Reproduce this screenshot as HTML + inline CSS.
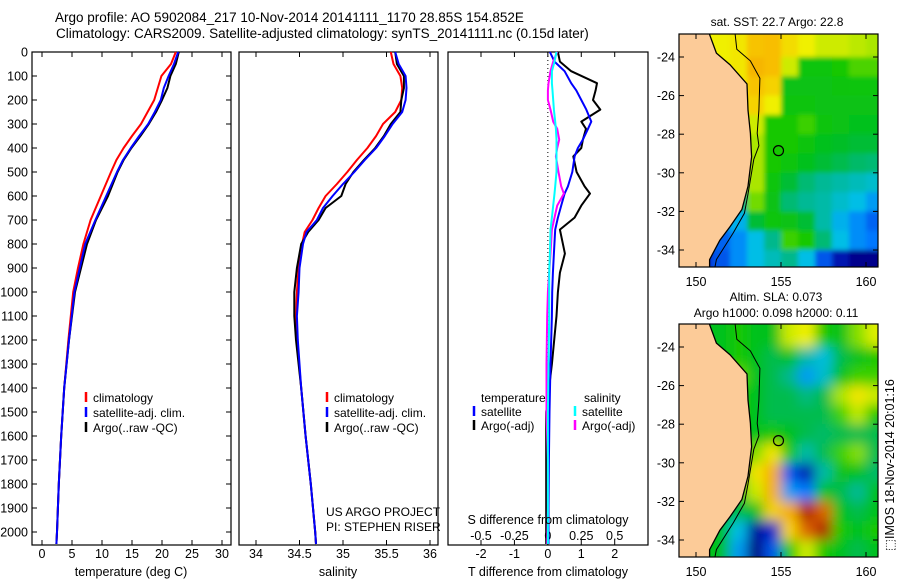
<!DOCTYPE html>
<html><head><meta charset="utf-8">
<style>
html,body{margin:0;padding:0;background:#fff;}
svg{display:block;font-family:"Liberation Sans",sans-serif;}
text{fill:#000;}
</style></head>
<body>
<svg id="fig" width="900" height="580" viewBox="0 0 900 580" xmlns="http://www.w3.org/2000/svg">
<defs>
<clipPath id="clipM1"><rect x="679" y="34" width="199" height="233"/></clipPath>
<clipPath id="clipM2"><rect x="679" y="324" width="199" height="233"/></clipPath>
<filter id="blur1" x="-10%" y="-10%" width="120%" height="120%"><feGaussianBlur stdDeviation="2.5"/></filter>
<filter id="blur2" x="-10%" y="-10%" width="120%" height="120%"><feGaussianBlur stdDeviation="6"/></filter>
</defs>
<text x="55" y="22" font-size="13.5">Argo profile: AO 5902084_217 10-Nov-2014 20141111_1170 28.85S 154.852E</text>
<text x="56" y="38" font-size="13.5">Climatology: CARS2009. Satellite-adjusted climatology: synTS_20141111.nc (0.15d later)</text>
<g id="g1"></g>
<g id="g2"></g>
<g id="g3"></g>
<g id="gm1"></g>
<g id="gm2"></g>
<text transform="translate(894,465) rotate(-90)" text-anchor="middle" font-size="12.5">⬚IMOS 18-Nov-2014 20:01:16</text>
</svg>
<script>
// ---------- profile data ----------
const tempDepth = [0,50,100,150,200,250,300,350,400,450,500,600,700,800,900,1000,1200,1400,1600,1800,2000,2050];
const tempClim = [22.3,21.5,19.9,19.3,18.7,17.6,16.5,15.0,13.6,12.4,11.5,9.8,8.1,6.9,6.0,5.2,4.4,3.7,3.2,2.8,2.5,2.4];
const tempSat = [22.7,22.0,21.1,20.3,19.8,18.8,17.7,16.2,14.8,13.5,12.5,10.7,8.9,7.2,6.3,5.4,4.5,3.7,3.2,2.8,2.5,2.4];
const tempArgo = [22.8,22.3,21.4,20.9,20.0,19.0,17.8,16.4,14.9,13.6,12.6,11.0,9.0,7.5,6.5,5.5,4.5,3.7,3.2,2.8,2.5,2.4];

const salDepth = [0,50,100,150,200,250,300,350,400,450,500,550,600,650,700,750,800,900,1000,1100,1200,1400,1600,1800,2000,2050];
const salClim = [35.55,35.58,35.66,35.68,35.67,35.6,35.46,35.38,35.28,35.16,35.05,34.93,34.8,34.72,34.65,34.56,34.53,34.49,34.47,34.46,34.47,34.52,34.57,34.63,34.68,34.69];
const salSat = [35.6,35.64,35.72,35.73,35.72,35.68,35.57,35.48,35.38,35.25,35.13,35.0,34.88,34.77,34.7,34.58,34.54,34.5,34.49,34.47,34.48,34.52,34.57,34.63,34.68,34.69];
const salArgo = [35.6,35.62,35.7,35.7,35.67,35.66,35.55,35.47,35.37,35.24,35.12,35.03,34.98,34.8,34.72,34.6,34.52,34.47,34.44,34.44,34.46,34.52,34.57,34.63,34.68,34.69];

const diffDepth = [0,40,80,130,160,200,240,290,320,365,400,435,500,560,590,640,690,740,840,920,1000,1100,1300,1500,1700,1900,2050];
const tDiffArgo = [0.3,0.36,0.7,1.47,1.43,1.35,1.57,1.0,1.14,1.05,1.0,0.76,0.86,1.1,1.26,1.0,0.8,0.36,0.51,0.36,0.3,0.26,0.12,-0.05,-0.05,-0.05,-0.05];
const tDiffSat = [0.06,0.2,0.5,0.7,0.85,1.0,1.15,1.3,1.2,1.05,0.9,0.8,0.73,0.6,0.5,0.4,0.3,0.22,0.18,0.15,0.13,0.12,0.08,0.05,0.03,0.02,0.02];
const sDiffSat = [0.065,0.05,0.03,0.03,0.035,0.04,0.045,0.055,0.06,0.065,0.065,0.065,0.065,0.055,0.05,0.04,0.03,0.02,0.015,0.01,0.01,0.01,0.005,0,0,0,0];
const sDiffArgo = [0.07,0.04,0.02,0.005,0,0,0.02,0.04,0.07,0.085,0.07,0.06,0.08,0.1,0.12,0.07,0.05,0.03,0.02,0.01,0,-0.005,-0.01,-0.01,0,0,-0.005];

const depthTicks = [0,100,200,300,400,500,600,700,800,900,1000,1100,1200,1300,1400,1500,1600,1700,1800,1900,2000];
const tempTicks = [0,5,10,15,20,25,30];
const salTicks = [34,34.5,35,35.5,36];
const salTickLabels = ["34","34.5","35","35.5","36"];
const tdTicks = [-2,-1,0,1,2];
const sdTicks = [-0.5,-0.25,0,0.25,0.5];
const sdTickLabels = ["-0.5","-0.25","0","0.25","0.5"];

// ---------- map data ----------
const mapLons = [149.5,150.5,151.5,152.5,153.5,154.5,155.5,156.5,157.5,158.5,159.5,160.5];
const mapLats = [-23.5,-24.5,-25.5,-26.5,-27.5,-28.5,-29.5,-30.5,-31.5,-32.5,-33.5,-34.5];
const sstGrid = [
[.76,.76,.76,.78,.85,.86,.8,.76,.72,.72,.7,.68],
[.76,.76,.76,.78,.87,.86,.72,.58,.58,.6,.63,.63],
[.76,.76,.76,.78,.85,.82,.56,.56,.56,.57,.58,.58],
[.76,.76,.76,.78,.82,.76,.57,.57,.56,.56,.56,.56],
[.76,.76,.76,.72,.72,.6,.6,.62,.57,.56,.55,.55],
[.68,.68,.68,.6,.68,.6,.6,.57,.55,.53,.52,.52],
[.5,.5,.5,.55,.68,.6,.58,.55,.52,.5,.48,.47],
[.45,.45,.45,.5,.68,.58,.52,.47,.44,.42,.4,.38],
[.4,.4,.4,.45,.65,.56,.47,.44,.42,.38,.35,.3],
[.3,.3,.3,.33,.52,.58,.56,.52,.42,.33,.28,.22],
[.22,.22,.22,.28,.35,.45,.62,.6,.47,.35,.28,.25],
[.15,.15,.2,.28,.35,.4,.45,.35,.2,.08,.02,.02]];
const slaGrid = [
[.55,.55,.55,.6,.55,.55,.72,.76,.6,.55,.66,.74],
[.55,.55,.55,.6,.55,.5,.55,.42,.36,.5,.55,.6],
[.55,.55,.55,.64,.55,.5,.45,.3,.38,.55,.62,.62],
[.55,.55,.55,.6,.55,.5,.5,.46,.5,.68,.78,.72],
[.55,.55,.55,.6,.55,.5,.5,.5,.5,.62,.7,.6],
[.55,.55,.55,.55,.55,.6,.55,.5,.48,.5,.5,.5],
[.55,.55,.55,.55,.66,.78,.6,.42,.5,.62,.66,.5],
[.55,.55,.55,.55,.78,.88,.2,.08,.42,.56,.55,.48],
[.55,.55,.55,.55,.72,.88,.3,.25,.55,.5,.44,.55],
[.55,.55,.55,.5,.55,.82,.88,1.0,.95,.55,.5,.55],
[.55,.55,.55,.35,.05,.12,.82,.95,1.0,.6,.55,.6],
[.55,.55,.55,.3,0,.2,.6,.72,.6,.55,.5,.55]];
const coastLon = [150.78,151.2,152.0,153.0,153.06,153.2,153.27,153.06,152.7,152.0,151.4,150.8,150.8];
const coastLat = [-22.8,-23.8,-24.4,-25.4,-26.75,-27.95,-29.17,-30.7,-31.9,-32.8,-33.5,-34.5,-34.95];
const shelfLon = [152.3,152.4,153.2,153.76,153.7,153.6,153.7,153.4,153.06,152.85,152.2,151.2,151.1];
const shelfLat = [-22.8,-23.6,-24.2,-25.1,-26.75,-27.95,-28.6,-29.3,-31.1,-32.1,-33.1,-34.5,-34.95];
const argoLon = 154.852, argoLat = -28.85;
const latTicks = [-24,-26,-28,-30,-32,-34];
const lonTicks = [150,155,160];

const NS = "http://www.w3.org/2000/svg";
function el(parent, tag, attrs, txt){
  const e = document.createElementNS(NS, tag);
  for (const k in attrs) e.setAttribute(k, attrs[k]);
  if (txt !== undefined) e.textContent = txt;
  parent.appendChild(e);
  return e;
}
function lin(d0,d1,r0,r1){ return v => r0 + (v-d0)/(d1-d0)*(r1-r0); }

const TOP = 52, BOT = 545;
const yD = lin(0, 2000, 52, 532);

function frame(g, x0, x1, name){
  const r = el(g,'rect',{x:x0,y:TOP,width:x1-x0,height:BOT-TOP,fill:'none',stroke:'#000','stroke-width':1.2});
  
  
}
function series(g, xs, ys, sx, color, name, w){
  const pts = xs.map((v,i)=> sx(v).toFixed(1)+','+yD(ys[i]).toFixed(1)).join(' ');
  const p = el(g,'polyline',{points:pts,fill:'none',stroke:color,'stroke-width':w||2,'stroke-linejoin':'round'});
  
  
}
function xticks(g, ticks, labels, sx, ly, name){
  ticks.forEach((t,i)=>{
    const x = sx(t);
    el(g,'line',{x1:x,x2:x,y1:TOP,y2:TOP+5,stroke:'#000'});
    el(g,'line',{x1:x,x2:x,y1:BOT,y2:BOT-5,stroke:'#000'});
    const tx = el(g,'text',{x:x,y:ly,'text-anchor':'middle','font-size':12.5}, labels[i]);
    
    
  });
}
function legendEntry(g, x, y, color, label){
  const gg = el(g,'g',{});
  
  
  if (color) el(gg,'line',{x1:x,x2:x,y1:y-10,y2:y,stroke:color,'stroke-width':2.5});
  el(gg,'text',{x:x+7,y:y,'font-size':12}, label);
}

// ---------- Panel 1: temperature ----------
const g1 = document.getElementById('g1');
const sxT = lin(0, 30, 42, 222);
frame(g1, 32, 231, 'temperature-axes-frame');
depthTicks.forEach(d=>{
  const y = yD(d);
  el(g1,'line',{x1:32,x2:37,y1:y,y2:y,stroke:'#000'});
  el(g1,'line',{x1:231,x2:226,y1:y,y2:y,stroke:'#000'});
  const t = el(g1,'text',{x:28,y:y+4.5,'text-anchor':'end','font-size':12.5}, String(d));
  
  
});
xticks(g1, tempTicks, tempTicks.map(String), sxT, 558, 'temperature-tick-label');
series(g1, tempClim, tempDepth, sxT, '#ff0000', 'temperature-climatology-line');
series(g1, tempArgo, tempDepth, sxT, '#000000', 'temperature-argo-line');
series(g1, tempSat, tempDepth, sxT, '#0000ff', 'temperature-satellite-line');
legendEntry(g1, 86, 402, '#ff0000', 'climatology');
legendEntry(g1, 86, 417, '#0000ff', 'satellite-adj. clim.');
legendEntry(g1, 86, 432, '#000000', 'Argo(..raw -QC)');
el(g1,'text',{x:131,y:576,'text-anchor':'middle','font-size':12.5},'temperature (deg C)');

// ---------- Panel 2: salinity ----------
const g2 = document.getElementById('g2');
const sxS = lin(34, 36, 256, 430);
frame(g2, 239, 438, 'salinity-axes-frame');
xticks(g2, salTicks, salTickLabels, sxS, 558, 'salinity-tick-label');
series(g2, salClim, salDepth, sxS, '#ff0000', 'salinity-climatology-line');
series(g2, salArgo, salDepth, sxS, '#000000', 'salinity-argo-line');
series(g2, salSat, salDepth, sxS, '#0000ff', 'salinity-satellite-line');
legendEntry(g2, 327, 402, '#ff0000', 'climatology');
legendEntry(g2, 327, 417, '#0000ff', 'satellite-adj. clim.');
legendEntry(g2, 327, 432, '#000000', 'Argo(..raw -QC)');
el(g2,'text',{x:326,y:516,'font-size':12},'US ARGO PROJECT');
el(g2,'text',{x:326,y:531,'font-size':12},'PI: STEPHEN RISER');
el(g2,'text',{x:338,y:576,'text-anchor':'middle','font-size':12.5},'salinity');

// ---------- Panel 3: differences ----------
const g3 = document.getElementById('g3');
const sxTD = lin(-2, 2, 481, 614.7);
const sxSD = lin(-0.5, 0.5, 481, 614.7);
frame(g3, 448, 648, 'difference-axes-frame');
xticks(g3, tdTicks, tdTicks.map(String), sxTD, 558, 'tdiff-tick-label');
sdTicks.forEach((t,i)=>{
  const tx = el(g3,'text',{x:sxSD(t),y:540,'text-anchor':'middle','font-size':12.5}, sdTickLabels[i]);
  
  
});
el(g3,'line',{x1:sxTD(0),x2:sxTD(0),y1:TOP,y2:BOT,stroke:'#000','stroke-dasharray':'1,3'});
series(g3, tDiffArgo, diffDepth, sxTD, '#000000', 'tdiff-argo-line');
series(g3, tDiffSat, diffDepth, sxTD, '#0000ff', 'tdiff-satellite-line');
series(g3, sDiffArgo, diffDepth, sxSD, '#ff00ff', 'sdiff-argo-line');
series(g3, sDiffSat, diffDepth, sxSD, '#00ffff', 'sdiff-satellite-line');
el(g3,'text',{x:481,y:402,'font-size':12},'temperature');
el(g3,'text',{x:584,y:402,'font-size':12},'salinity');
legendEntry(g3, 474, 416, '#0000ff', 'satellite');
legendEntry(g3, 474, 430, '#000000', 'Argo(-adj)');
legendEntry(g3, 575, 416, '#00ffff', 'satellite');
legendEntry(g3, 575, 430, '#ff00ff', 'Argo(-adj)');
el(g3,'text',{x:548,y:524,'text-anchor':'middle','font-size':12.5},'S difference from climatology');
el(g3,'text',{x:548,y:576,'text-anchor':'middle','font-size':12.5},'T difference from climatology');

// ---------- Maps ----------
const cstops = [[0,[0,0,128]],[0.12,[0,32,200]],[0.25,[0,120,255]],[0.35,[0,190,230]],[0.45,[0,184,140]],[0.53,[0,190,40]],[0.6,[20,200,0]],[0.68,[170,230,0]],[0.76,[240,240,0]],[0.86,[248,190,0]],[0.93,[236,130,0]],[1,[176,32,0]]];
function cmap(v){
  v = Math.max(0, Math.min(1, v));
  for (let i=1;i<cstops.length;i++){
    if (v <= cstops[i][0]){
      const a = cstops[i-1], b = cstops[i], f = (v-a[0])/(b[0]-a[0]);
      const c = a[1].map((x,k)=>Math.round(x+(b[1][k]-x)*f));
      return 'rgb('+c.join(',')+')';
    }
  }
  return 'rgb(176,32,0)';
}
function drawMap(gid, y0, grid, blurId, clipId, nameGrid){
  const g = document.getElementById(gid);
  const sx = lin(150, 160, 696, 866);
  const sy = lin(-24, -34, y0+23, y0+216);
  const clip = el(g,'g',{'clip-path':'url(#'+clipId+')'});
  el(clip,'rect',{x:679,y:y0,width:199,height:233,fill:cmap(grid[5][6])});
  const hg = el(clip,'g',{filter:'url(#'+blurId+')'});
  
  
  grid.forEach((row,r)=>row.forEach((v,c)=>{
    const x0 = sx(mapLons[c]-0.5), x1 = sx(mapLons[c]+0.5);
    const ya = sy(mapLats[r]+0.5), yb = sy(mapLats[r]-0.5);
    const cell = el(hg,'rect',{x:x0-(c==0?20:0),y:ya-(r==0?20:0),width:x1-x0+(c==0||c==11?20:0)+0.5,height:yb-ya+(r==0||r==11?20:0)+0.5,fill:cmap(v)});
    
    
  }));
  // land
  const coastPts = coastLon.map((lo,i)=>sx(lo).toFixed(1)+','+sy(coastLat[i]).toFixed(1));
  const pts = coastPts.concat(['670,'+(y0+240), '670,'+(y0-5)]);
  const land = el(clip,'polygon',{points:pts.join(' '),fill:'#fccb98',stroke:'none'});
  
  
  const coast = el(clip,'polyline',{points:coastPts.join(' '),fill:'none',stroke:'#000','stroke-width':1.3});
  
  
  const shelf = el(clip,'polyline',{points:shelfLon.map((lo,i)=>sx(lo).toFixed(1)+','+sy(shelfLat[i]).toFixed(1)).join(' '),fill:'none',stroke:'#000','stroke-width':1});
  
  
  const c = el(g,'circle',{cx:sx(argoLon),cy:sy(argoLat),r:5,fill:'none',stroke:'#000','stroke-width':1.2});
  
  
  el(g,'rect',{x:679,y:y0,width:199,height:233,fill:'none',stroke:'#000','stroke-width':1.2});
  latTicks.forEach(l=>{
    const y = sy(l);
    el(g,'line',{x1:679,x2:684,y1:y,y2:y,stroke:'#000'});
    el(g,'line',{x1:878,x2:873,y1:y,y2:y,stroke:'#000'});
    const t = el(g,'text',{x:675,y:y+4.5,'text-anchor':'end','font-size':12.5}, String(l));
    
    
  });
  lonTicks.forEach(l=>{
    const x = sx(l);
    el(g,'line',{x1:x,x2:x,y1:y0,y2:y0+5,stroke:'#000'});
    el(g,'line',{x1:x,x2:x,y1:y0+233,y2:y0+228,stroke:'#000'});
    const t = el(g,'text',{x:x,y:y0+252,'text-anchor':'middle','font-size':12.5}, String(l));
    
    
  });
}
drawMap('gm1', 34, sstGrid, 'blur1', 'clipM1', 'sst-heatmap');
drawMap('gm2', 324, slaGrid, 'blur2', 'clipM2', 'sla-heatmap');
const gm1 = document.getElementById('gm1'), gm2 = document.getElementById('gm2');
el(gm1,'text',{x:777,y:26,'text-anchor':'middle','font-size':12},'sat. SST: 22.7 Argo: 22.8');
el(gm2,'text',{x:776,y:301,'text-anchor':'middle','font-size':12},'Altim. SLA: 0.073');
el(gm2,'text',{x:776,y:317,'text-anchor':'middle','font-size':12},'Argo h1000: 0.098 h2000: 0.11');
</script>
</body></html>
